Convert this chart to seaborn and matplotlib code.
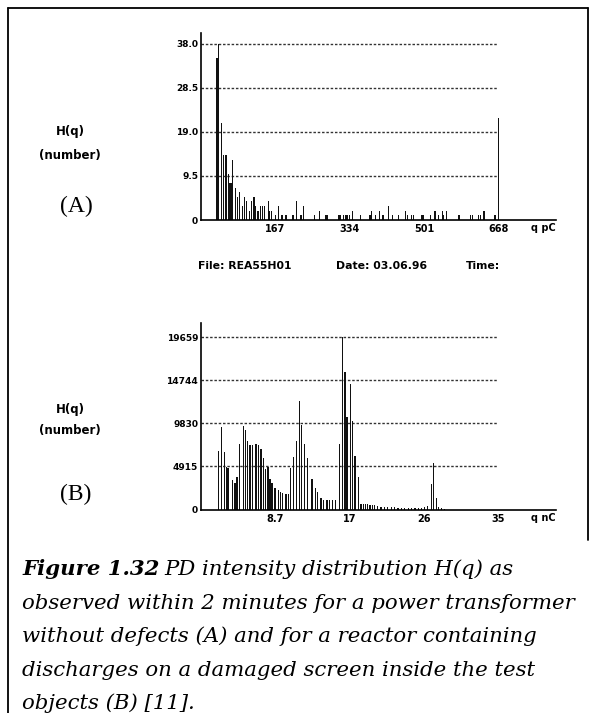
import numpy as np
import pandas as pd
import matplotlib
matplotlib.use("Agg")
import matplotlib.pyplot as plt
import seaborn as sns

# ---------------- data ----------------
# Panel (A): power transformer without defects, q in pC
a_charge_pc = [36, 40, 46, 51, 56, 61, 65, 68, 71, 77, 82, 87, 93, 97, 102, 109, 113,
               119, 122, 128, 133, 139, 143, 151, 154, 159, 168, 175, 182, 191, 207,
               214, 225, 230, 255, 266, 281, 285, 310, 313, 320, 324, 328, 333, 341,
               358, 380, 384, 392, 401, 409, 422, 431, 444, 459, 465, 473, 478, 495,
               499, 516, 526, 533, 542, 546, 552, 580, 606, 610, 624, 629, 636, 661, 668]
a_count = [35, 38, 21, 14, 14, 10, 8, 8, 13, 7, 5, 6, 3, 5, 4, 2, 4,
           5, 3, 2, 3, 3, 3, 4, 2, 2, 1, 3, 1, 1, 1,
           4, 1, 3, 1, 2, 1, 1, 1, 1, 1, 1, 1, 1, 2,
           1, 1, 2, 1, 2, 1, 3, 1, 1, 2, 1, 1, 1, 1,
           1, 1, 2, 1, 2, 1, 2, 1, 1, 1, 1, 1, 2, 1, 22]
a_yticks = [0, 9.5, 19.0, 28.5, 38.0]
a_yticklabels = ["0", "9.5", "19.0", "28.5", "38.0"]
a_xticks = [167, 334, 501, 668]
a_xticklabels = ["167", "334", "501", "668"]

# Panel (B): reactor with damaged screen, q in nC
b_charge_nc = [2.07, 2.39, 2.78, 2.98, 3.10, 3.25, 3.72, 4.00, 4.24, 4.51, 4.98, 5.25,
               5.49, 5.77, 6.04, 6.48, 6.79, 7.07, 7.34, 7.61, 7.88, 8.13, 8.36, 8.71,
               9.10, 9.38, 9.61, 10.00, 10.28, 10.55, 10.87, 11.26, 11.61, 11.85, 12.20,
               12.56, 13.07, 13.46, 13.70, 14.13, 14.44, 14.84, 15.15, 15.50, 15.82,
               16.29, 16.68, 16.96, 17.20, 17.58, 17.86, 18.14, 18.57, 18.85, 19.10,
               19.35, 19.60, 19.90, 20.15, 20.40, 20.80, 21.20, 21.60, 22.00, 22.40,
               22.80, 23.20, 23.60, 24.00, 24.40, 24.80, 25.20, 25.60, 26.00, 26.30,
               26.70, 27.10, 27.40, 27.70, 27.95, 28.30, 28.70]
b_count = [6680, 9430, 6600, 4850, 4770, 4700, 3320, 3050, 3700, 7520, 9470, 9050,
           7750, 7370, 7370, 7520, 7370, 6870, 5920, 4580, 4800, 3435, 3050, 2480,
           2180, 2020, 1910, 1720, 1720, 4700, 6030, 7750, 12330, 9660, 7440,
           5840, 3440, 2480, 2020, 1260, 1030, 1030, 1030, 1030, 1030,
           7480, 19659, 15660, 10520, 14250, 10140, 6150, 3750, 650, 620,
           600, 580, 560, 520, 480, 360, 330, 300, 270, 250,
           230, 210, 190, 180, 170, 160, 150, 140, 150, 260,
           420, 2900, 5340, 1330, 320, 130, 80]
b_yticks = [0, 4915, 9830, 14744, 19659]
b_yticklabels = ["0", "4915", "9830", "14744", "19659"]
b_xticks = [8.75, 17.5, 26.25, 35]
b_xticklabels = ["8.7", "17", "26", "35"]

# ---------------- figure ----------------
W, H = 595, 713
sns.set_theme(style="white")
plt.rcParams["font.family"] = ["DejaVu Sans"]
for k in ["text.color", "axes.labelcolor", "xtick.color", "ytick.color",
          "axes.edgecolor"]:
    plt.rcParams[k] = "black"
fig = plt.figure(figsize=(W / 100, H / 100), dpi=100)
fig.patch.set_facecolor("white")


def fx(px):
    return px / W


def fy(py):
    return 1 - py / H


def panel(rect, xs, ys, xlim, ylim, yticks, ylabels, xticks, xlabels, grid_end,
          bar_px, unit_label):
    ax = fig.add_axes(rect)
    ax.set_facecolor("white")
    df = pd.DataFrame({"q": xs, "h": ys})
    px_per_unit = rect[2] * W / (xlim[1] - xlim[0])
    mind = np.min(np.diff(np.unique(df["q"])))
    width = (bar_px / px_per_unit) / mind
    sns.barplot(data=df, x="q", y="h", native_scale=True, color="#111111",
                saturation=1, width=width, linewidth=0, errorbar=None, ax=ax)
    for yv in yticks[1:]:
        ax.hlines(yv, xlim[0], grid_end, colors="#333333", linewidth=1.0,
                  linestyles=(0, (1.8, 1.3)), zorder=0)
    ax.set_xlim(*xlim)
    ax.set_ylim(*ylim)
    ax.set_xticks(xticks)
    ax.set_xticklabels(xlabels, fontsize=7, fontweight="bold")
    ax.set_yticks(yticks)
    ax.set_yticklabels(ylabels, fontsize=6.5, fontweight="bold")
    ax.tick_params(axis="x", direction="in", length=4, width=1, pad=3, colors="black")
    ax.tick_params(axis="y", length=0, pad=2, colors="black")
    ax.set_xlabel("")
    ax.set_ylabel("")
    for s in ["top", "right"]:
        ax.spines[s].set_visible(False)
    for s in ["left", "bottom"]:
        ax.spines[s].set_color("black")
        ax.spines[s].set_linewidth(1.2)
    ax.grid(False)
    ax.text(1.0, -0.045, unit_label, transform=ax.transAxes, ha="right", va="center",
            fontsize=7, fontweight="bold", color="black")
    return ax


# panel A: axes from x=201..556 px, y=33..220 px
axA = panel([fx(201), fy(220), 355 / W, 187 / H], a_charge_pc, a_count,
            (0, 798), (0, 40.3), a_yticks, a_yticklabels, a_xticks, a_xticklabels,
            668, 1.2, "q pC")
# panel B: axes from x=201..556 px, y=323..509.5 px
axB = panel([fx(201), fy(509.5), 355 / W, 186.8 / H], b_charge_nc, b_count,
            (0, 41.8), (0, 21289), b_yticks, b_yticklabels, b_xticks, b_xticklabels,
            35, 1.2, "q nC")

# side labels
for yh, yn, ylet, let in [(131, 155, 206, "(A)"), (409, 431, 494, "(B)")]:
    fig.text(fx(70), fy(yh), "H(q)", ha="center", va="center", fontsize=8.5,
             fontweight="bold", color="black")
    fig.text(fx(70), fy(yn), "(number)", ha="center", va="center", fontsize=8.5,
             fontweight="bold", color="black")
    fig.text(fx(76), fy(ylet), let, ha="center", va="center", fontsize=17,
             family="Liberation Serif", color="black")

for xx, s in [(198, "File: REA55H01"), (336, "Date: 03.06.96"), (466, "Time:")]:
    fig.text(fx(xx), fy(266), s, ha="left", va="center", fontsize=7.8,
             fontweight="bold", color="black")

# frame
frame_kw = dict(color="black", linewidth=1.3, transform=fig.transFigure, clip_on=False)
fig.add_artist(plt.Line2D([fx(8), fx(8)], [fy(8), 0], **frame_kw))
fig.add_artist(plt.Line2D([fx(8), fx(588)], [fy(8), fy(8)], **frame_kw))
fig.add_artist(plt.Line2D([fx(588), fx(588)], [fy(8), fy(540)], **frame_kw))

# caption
renderer = fig.canvas.get_renderer()
cap_family = "DejaVu Serif"
test = fig.text(0, 0, "observed within 2 minutes for a power transformer",
                fontsize=15, style="italic", family=cap_family)
wpx = test.get_window_extent(renderer).width
test.remove()
cap_size = 15 * 555 / wpx

lines = ["PD intensity distribution H(q) as",
         "observed within 2 minutes for a power transformer",
         "without defects (A) and for a reactor containing",
         "discharges on a damaged screen inside the test",
         "objects (B) [11]."]
baselines = [575, 609, 642, 676, 709]
t0 = fig.text(fx(22), fy(baselines[0]), "Figure 1.32", fontsize=cap_size,
              style="italic", fontweight="bold", family=cap_family, va="baseline",
              color="black")
w0 = t0.get_window_extent(renderer).width
fig.text(fx(22 + w0 + 0.25 * cap_size * 100 / 72), fy(baselines[0]), lines[0],
         fontsize=cap_size, style="italic", family=cap_family, va="baseline",
         color="black")
for ln, b in zip(lines[1:], baselines[1:]):
    fig.text(fx(22), fy(b), ln, fontsize=cap_size, style="italic",
             family=cap_family, va="baseline", color="black")

fig.savefig("out.png", dpi=100, facecolor="white")
